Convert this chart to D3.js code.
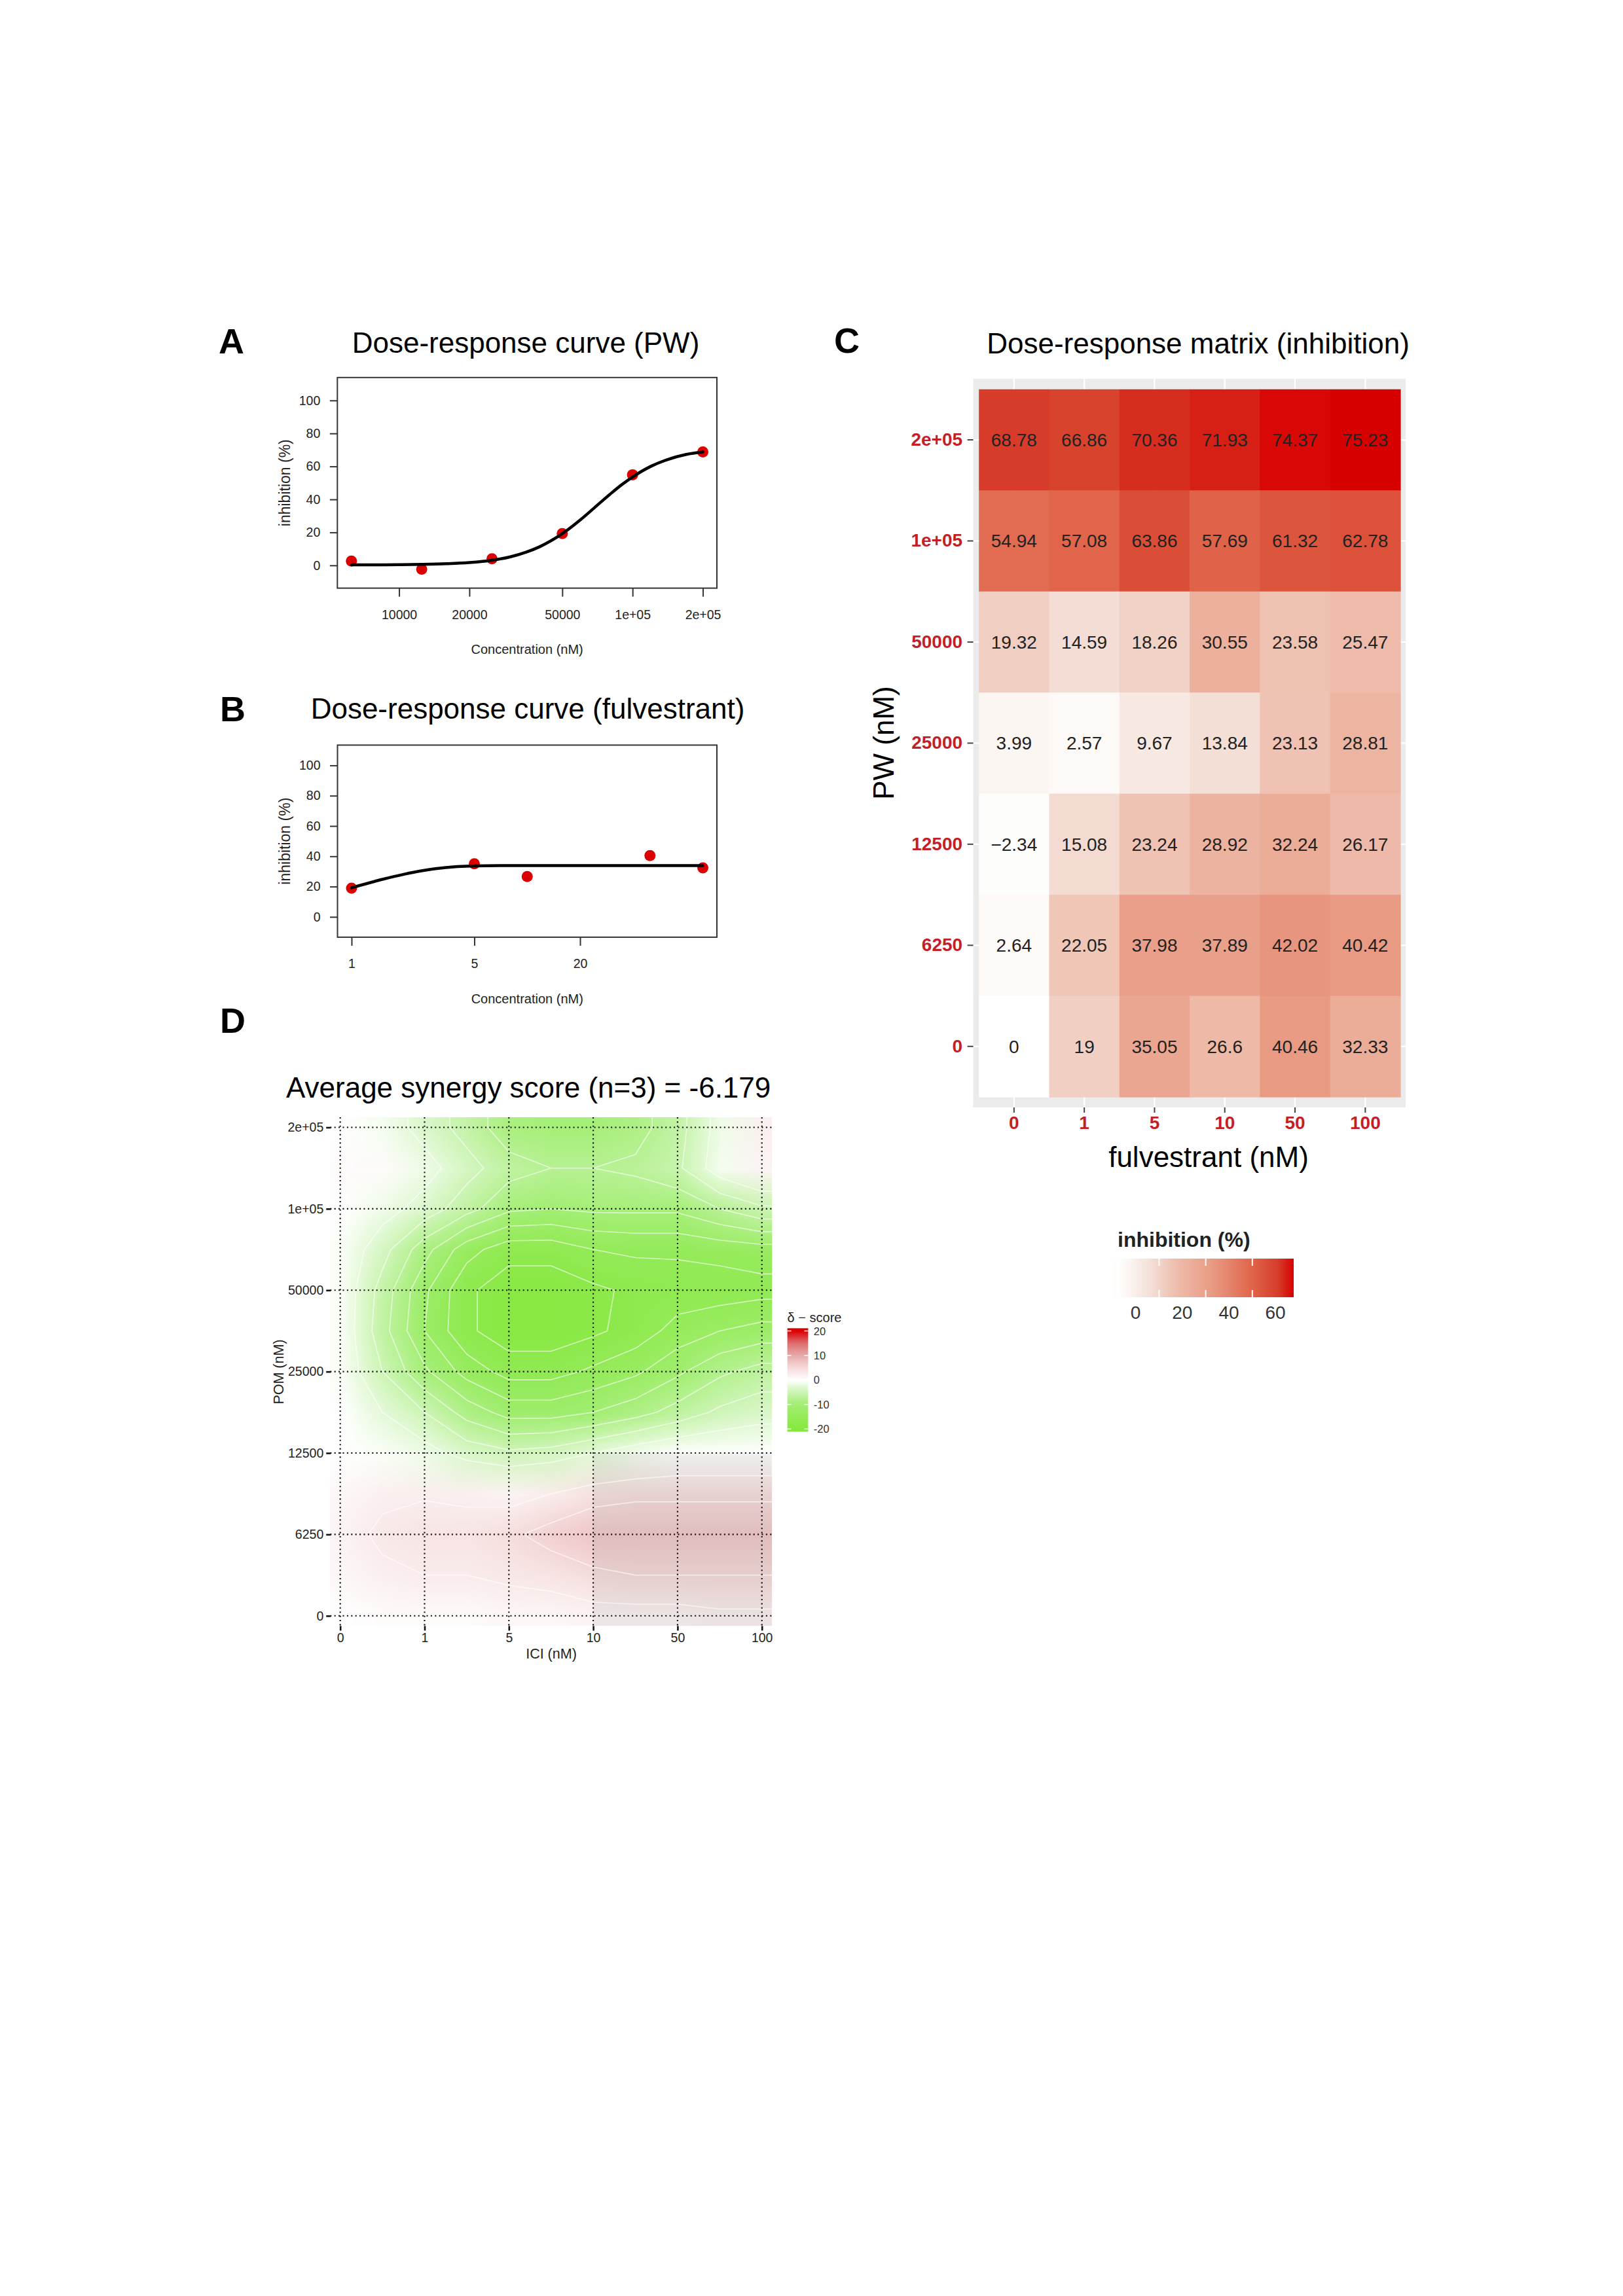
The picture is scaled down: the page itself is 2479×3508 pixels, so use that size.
<!DOCTYPE html>
<html><head><meta charset="utf-8">
<script src="https://cdn.jsdelivr.net/npm/d3@7"></script>
<style>html,body{margin:0;padding:0;background:#fff;} svg{display:block;}</style>
</head><body>
<svg id="fig" width="2479" height="3508" xmlns="http://www.w3.org/2000/svg"></svg>
<script>
// ================= DATA =================
// Panel A: PW single-drug dose response
const pwDoses = [6250, 12500, 25000, 50000, 100000, 200000];
const pwInhibition = [2.64, -2.34, 3.99, 19.32, 54.94, 68.78];
// fitted curve
const pwCurveConc = [6250, 8000, 10000, 12500, 16000, 20000, 25000, 30000, 35000, 40000, 50000, 60000, 70000, 80000, 90000, 100000, 120000, 140000, 170000, 200000];
const pwCurveInh  = [0.3, 0.35, 0.4, 0.6, 1.0, 1.7, 3.1, 5.2, 8.0, 11.3, 19.2, 27.8, 36.0, 43.1, 49.0, 53.6, 60.1, 64.0, 67.3, 68.8];
const pwTicks = [10000, 20000, 50000, 100000, 200000];
const pwTickLabels = ["10000", "20000", "50000", "1e+05", "2e+05"];

// Panel B: fulvestrant single-drug dose response
const fulDoses = [1, 5, 10, 50, 100];
const fulInhibition = [19, 35.05, 26.6, 40.46, 32.33];
const fulCurveConc = [1, 1.5, 2, 2.5, 3, 4, 5, 7, 10, 20, 50, 100];
const fulCurveInh  = [19.2, 24.8, 28.2, 30.4, 31.8, 33.2, 33.7, 33.9, 33.9, 33.9, 33.9, 33.9];
const fulTicks = [1, 5, 20];
const inhTicks = [0, 20, 40, 60, 80, 100];

// Panel C: dose-response matrix (rows PW top->bottom, cols fulvestrant)
const pwLevels  = ["2e+05", "1e+05", "50000", "25000", "12500", "6250", "0"];
const fulLevels = ["0", "1", "5", "10", "50", "100"];
const matrixValues = [
  [68.78, 66.86, 70.36, 71.93, 74.37, 75.23],
  [54.94, 57.08, 63.86, 57.69, 61.32, 62.78],
  [19.32, 14.59, 18.26, 30.55, 23.58, 25.47],
  [3.99, 2.57, 9.67, 13.84, 23.13, 28.81],
  [-2.34, 15.08, 23.24, 28.92, 32.24, 26.17],
  [2.64, 22.05, 37.98, 37.89, 42.02, 40.42],
  [0, 19, 35.05, 26.6, 40.46, 32.33]
];
const matrixLegendTicks = [0, 20, 40, 60];

// Panel D: delta synergy surface, read at half-dose-steps
// rows: POM 2e+05 (top) ... 0 (bottom), 13 rows; cols: ICI 0 ... 100, 11 cols
const pomLevels = ["2e+05", "1e+05", "50000", "25000", "12500", "6250", "0"];
const iciLevels = ["0", "1", "5", "10", "50", "100"];
const synergySurface = [
  [ 0,   -1,   -3.5,  -6,   -9,   -9.5,  -9.5,  -8.5,  -6,   -1.5,  2  ],
  [ 0.5,  0.5, -1.5,  -4,   -6.5, -7.5,  -7.5,  -7,    -5.5, -1,    1.5],
  [ 0,   -1.5, -3.5,  -6.5, -9.5, -10,   -9.5,  -9.5,  -9.5, -7.5, -5.5 ],
  [-0.5, -4,   -9,   -14,   -16.5,-16.5, -15,   -14.5, -14.5,-14,  -13.5],
  [-0.5, -6,  -12,   -17,   -19,  -19,   -18,   -17,   -16.5,-16.5,-16  ],
  [-0.5, -6.5,-12.5, -17,   -19,  -19,   -18,   -16.5, -14,  -12.5,-11.5],
  [-0.5, -5,   -9.5, -13.5, -16,  -16,   -14.5, -13,   -10.5,-8,   -6.5 ],
  [ 0,   -2.5, -5,    -8.5, -11,  -11,   -10,   -8.5,  -6.5, -4.5, -3.5 ],
  [ 0,   -0.5, -1.5,  -3.5, -4.5, -4,    -2.5,  -1,     0,    0,    0  ],
  [ 1,    2,    2.3,   2,    1.5,  2.5,   4,     4.5,   4.5,  4.5,  4.5 ],
  [ 1.5,  3,    3.5,   3.5,  4.5,  6,     7,     7,     7,    7,    7  ],
  [ 1,    2,    2.5,   2.5,  3,    3.5,   4.5,   5,     5,    5,    5  ],
  [ 0,    0.5,  0.5,   0.5,  1,    1,     1.5,   1.5,   1.5,  2,    2  ]
];
const deltaContourLevels = [-17.5, -15, -12.5, -10, -7.5, -5, -2.5, 2.5, 5];
const deltaLegendTicks = [20, 10, 0, -10, -20];
const deltaLimits = [-21.1, 21.1];

// ================= DRAWING =================
const FONT = "'Liberation Sans', Arial, Helvetica, sans-serif";
const svg = d3.select("#fig");
svg.append("rect").attr("width", 2479).attr("height", 3508).attr("fill", "#fff");
const defs = svg.append("defs");

function txt(g, s, x, y, size, opts = {}) {
  const t = g.append("text").attr("x", x).attr("y", y)
    .attr("font-family", FONT).attr("font-size", size)
    .attr("fill", opts.fill || "#000")
    .attr("text-anchor", opts.anchor || "start")
    .text(s);
  if (opts.weight) t.attr("font-weight", opts.weight);
  if (opts.rotate) t.attr("transform", `rotate(${opts.rotate},${x},${y})`);
  if (opts.central) t.attr("dominant-baseline", "central");
  return t;
}

// panel letters
txt(svg, "A", 334, 540, 54, {weight: "bold"});
txt(svg, "B", 336, 1102, 54, {weight: "bold"});
txt(svg, "C", 1274, 539, 54, {weight: "bold"});
txt(svg, "D", 336, 1578, 54, {weight: "bold"});

// ---------- Dose-response curves (A, B) ----------
function drawDoseCurve(o) {
  const g = svg.append("g");
  const lx = d3.extent(o.doses, d => Math.log10(d));
  const pad = (lx[1] - lx[0]) * 0.04;
  const x = d3.scaleLog().domain([Math.pow(10, lx[0] - pad), Math.pow(10, lx[1] + pad)])
    .range([o.box.left, o.box.right]);
  const y = d3.scaleLinear().domain(o.yDomain).range([o.box.bottom, o.box.top]);

  txt(g, o.title, o.titleX, o.titleY, 44, {anchor: "middle"});

  const ya = g.append("g").attr("transform", `translate(${o.box.left},0)`)
    .call(d3.axisLeft(y).tickValues(inhTicks).tickSize(11.5).tickPadding(14.5));
  const xa = g.append("g").attr("transform", `translate(0,${o.box.bottom})`)
    .call(d3.axisBottom(x).tickValues(o.ticks).tickFormat((d, i) => o.tickLabels[i]).tickSize(13).tickPadding(20.5));
  [ya, xa].forEach(a => {
    a.select(".domain").remove();
    a.attr("font-family", FONT).attr("font-size", 19.5);
    a.selectAll(".tick line").attr("stroke", "#333").attr("stroke-width", 2);
    a.selectAll(".tick text").attr("fill", "#222");
  });

  g.append("rect").attr("x", o.box.left).attr("y", o.box.top)
    .attr("width", o.box.right - o.box.left).attr("height", o.box.bottom - o.box.top)
    .attr("fill", "none").attr("stroke", "#333").attr("stroke-width", 2);

  txt(g, "Concentration (nM)", (o.box.left + o.box.right) / 2, o.xLabelY, 20, {anchor: "middle", fill: "#222"});
  txt(g, "inhibition (%)", 435, (o.box.top + o.box.bottom) / 2, 23, {anchor: "middle", fill: "#222", rotate: -90, central: true});

  g.selectAll("circle.pt").data(o.doses.map((d, i) => [d, o.values[i]])).join("circle")
    .attr("class", "pt").attr("cx", d => x(d[0])).attr("cy", d => y(d[1]))
    .attr("r", 8.5).attr("fill", "#dc0000");

  const line = d3.line().x(d => x(d[0])).y(d => y(d[1])).curve(d3.curveMonotoneX);
  g.append("path").datum(o.curveConc.map((c, i) => [c, o.curveInh[i]]))
    .attr("d", line).attr("fill", "none").attr("stroke", "#000")
    .attr("stroke-width", 4.5).attr("stroke-linecap", "round");
}

drawDoseCurve({
  title: "Dose-response curve (PW)", titleX: 803, titleY: 539,
  box: {left: 515.3, right: 1095, top: 576.8, bottom: 898.6},
  yDomain: [-13.8, 113.9],
  doses: pwDoses, values: pwInhibition, curveConc: pwCurveConc, curveInh: pwCurveInh,
  ticks: pwTicks, tickLabels: pwTickLabels, xLabelY: 999
});
drawDoseCurve({
  title: "Dose-response curve (fulvestrant)", titleX: 806, titleY: 1098,
  box: {left: 515.5, right: 1095, top: 1138.4, bottom: 1431.9},
  yDomain: [-13.4, 113.4],
  doses: fulDoses, values: fulInhibition, curveConc: fulCurveConc, curveInh: fulCurveInh,
  ticks: fulTicks, tickLabels: fulTicks.map(String), xLabelY: 1532.5
});

// ---------- Panel C: dose-response matrix ----------
(function () {
  const g = svg.append("g");
  const panel = {left: 1486.6, right: 2147, top: 578.7, bottom: 1692};
  const cx = d3.scaleBand().domain(fulLevels).range([1495.2, 2139]);
  const cy = d3.scaleBand().domain(pwLevels).range([594.8, 1676]);
  const ext = d3.extent(matrixValues.flat());
  const color = d3.scaleLinear()
    .domain([ext[0], 0, 3.99, 14.59, 25.47, 40.46, 57.08, 68.78, ext[1]])
    .range(["#fdfdfc", "#ffffff", "#fcf6f3", "#f3ddd4", "#eebbaa", "#e89a83", "#e0654a", "#d63c29", "#d70000"])
    .interpolate(d3.interpolateRgb);
  const red = "#c41e26";

  txt(g, "Dose-response matrix (inhibition)", 1830, 540, 44, {anchor: "middle"});

  g.append("rect").attr("x", panel.left).attr("y", panel.top)
    .attr("width", panel.right - panel.left).attr("height", panel.bottom - panel.top).attr("fill", "#ebebeb");
  g.selectAll("line.vg").data(fulLevels).join("line").attr("class", "vg")
    .attr("x1", d => cx(d) + cx.bandwidth() / 2).attr("x2", d => cx(d) + cx.bandwidth() / 2)
    .attr("y1", panel.top).attr("y2", panel.bottom).attr("stroke", "#fff").attr("stroke-width", 2.2);
  g.selectAll("line.hg").data(pwLevels).join("line").attr("class", "hg")
    .attr("y1", d => cy(d) + cy.bandwidth() / 2).attr("y2", d => cy(d) + cy.bandwidth() / 2)
    .attr("x1", panel.left).attr("x2", panel.right).attr("stroke", "#fff").attr("stroke-width", 2.2);

  const cells = [];
  matrixValues.forEach((row, r) => row.forEach((v, c) => cells.push({r: pwLevels[r], c: fulLevels[c], v})));
  g.selectAll("rect.cell").data(cells).join("rect").attr("class", "cell")
    .attr("x", d => cx(d.c)).attr("y", d => cy(d.r))
    .attr("width", cx.bandwidth() + 0.6).attr("height", cy.bandwidth() + 0.6)
    .attr("fill", d => color(d.v));
  g.selectAll("text.cell").data(cells).join("text").attr("class", "cell")
    .attr("x", d => cx(d.c) + cx.bandwidth() / 2).attr("y", d => cy(d.r) + cy.bandwidth() / 2)
    .attr("dy", "0.35em").attr("text-anchor", "middle")
    .attr("font-family", FONT).attr("font-size", 28).attr("fill", "#222")
    .text(d => String(d.v).replace("-", "\u2212"));

  const ya = g.append("g").attr("transform", `translate(${panel.left},0)`)
    .call(d3.axisLeft(cy).tickSize(9).tickPadding(7.5));
  const xa = g.append("g").attr("transform", `translate(0,${panel.bottom})`)
    .call(d3.axisBottom(cx).tickSize(8).tickPadding(5.5));
  [ya, xa].forEach(a => {
    a.select(".domain").remove();
    a.attr("font-family", FONT).attr("font-size", 28).attr("font-weight", "bold");
    a.selectAll(".tick line").attr("stroke", "#444").attr("stroke-width", 2);
    a.selectAll(".tick text").attr("fill", red);
  });

  txt(g, "fulvestrant (nM)", 1846, 1783, 44, {anchor: "middle"});
  txt(g, "PW (nM)", 1349, 1135, 44, {anchor: "middle", rotate: -90, central: true});

  // legend
  const lg = {left: 1700, right: 1976, top: 1923, bottom: 1982};
  const ls = d3.scaleLinear().domain(ext).range([lg.left, lg.right]);
  const grad = defs.append("linearGradient").attr("id", "gradC").attr("x1", "0%").attr("x2", "100%").attr("y1", "0%").attr("y2", "0%");
  d3.range(0, 1.0001, 0.025).forEach(t => {
    grad.append("stop").attr("offset", (t * 100) + "%").attr("stop-color", color(ext[0] + t * (ext[1] - ext[0])));
  });
  txt(g, "inhibition (%)", 1707, 1905, 32, {weight: "bold", fill: "#222"});
  g.append("rect").attr("x", lg.left).attr("y", lg.top).attr("width", lg.right - lg.left)
    .attr("height", lg.bottom - lg.top).attr("fill", "url(#gradC)");
  const step = ls(20) - ls(0);
  matrixLegendTicks.forEach(v => {
    const xx = ls(v) - 9;
    g.append("line").attr("x1", xx).attr("x2", xx).attr("y1", lg.top).attr("y2", lg.top + 11).attr("stroke", "#fff").attr("stroke-width", 2);
    g.append("line").attr("x1", xx).attr("x2", xx).attr("y1", lg.bottom - 11).attr("y2", lg.bottom).attr("stroke", "#fff").attr("stroke-width", 2);
    txt(g, String(v), ls(v) + step * 0.37, 2015, 28, {anchor: "middle", fill: "#333"});
  });
})();

// ---------- Panel D: synergy landscape ----------
(function () {
  const g = svg.append("g");
  const dx = d3.scaleLinear().domain([0, 5]).range([519.7, 1163.7]);
  const dy = d3.scaleLinear().domain([0, 6]).range([1722.5, 2468.8]);
  const lo = {i: -0.12, j: -0.125}, hi = {i: 5.12, j: 6.125};
  const color = d3.scaleLinear()
    .domain([deltaLimits[0], -20, -10, -4, 0, 5, 10, 15, 20, deltaLimits[1]])
    .range(["#84e63a", "#86e83e", "#a2ee72", "#d5f6c2", "#ffffff", "#f5d9d9", "#e7aaaa", "#df6e6e", "#da0000", "#d90000"])
    .interpolate(d3.interpolateRgb);

  txt(g, "Average synergy score (n=3) = -6.179", 437, 1677, 44);

  defs.append("clipPath").attr("id", "clipD").append("rect")
    .attr("x", dx(lo.i)).attr("y", dy(lo.j))
    .attr("width", dx(hi.i) - dx(lo.i)).attr("height", dy(hi.j) - dy(lo.j));

  // padded grid (edge values repeated) for rendering
  const nr = synergySurface.length, nc = synergySurface[0].length;
  const pw = nc + 2, ph = nr + 2;
  const padded = [];
  for (let r = -1; r <= nr; r++) {
    const rr = Math.max(0, Math.min(nr - 1, r));
    for (let c = -1; c <= nc; c++) {
      const cc = Math.max(0, Math.min(nc - 1, c));
      padded.push(synergySurface[rr][cc]);
    }
  }
  const canvas = document.createElement("canvas");
  canvas.width = pw; canvas.height = ph;
  const ctx = canvas.getContext("2d");
  const im = ctx.createImageData(pw, ph);
  padded.forEach((v, k) => {
    const c = d3.rgb(color(v));
    im.data[4 * k] = Math.round(c.r); im.data[4 * k + 1] = Math.round(c.g);
    im.data[4 * k + 2] = Math.round(c.b); im.data[4 * k + 3] = 255;
  });
  ctx.putImageData(im, 0, 0);
  const si = 5 / (nc - 1), sj = 6 / (nr - 1);
  const surf = g.append("g").attr("clip-path", "url(#clipD)");
  surf.append("image")
    .attr("href", canvas.toDataURL("image/png"))
    .attr("x", dx(-1.5 * si)).attr("y", dy(-1.5 * sj))
    .attr("width", dx(5 + 1.5 * si) - dx(-1.5 * si))
    .attr("height", dy(6 + 1.5 * sj) - dy(-1.5 * sj))
    .attr("preserveAspectRatio", "none")
    .style("image-rendering", "auto");

  // grey tint patch visible in the source figure
  surf.append("rect").attr("x", dx(3)).attr("y", dy(4))
    .attr("width", dx(hi.i) - dx(3)).attr("height", dy(hi.j) - dy(4))
    .attr("fill", "#7f867f").attr("opacity", 0.12);

  // contour lines
  const contours = d3.contours().size([pw, ph]).thresholds(deltaContourLevels)(padded);
  const proj = d3.geoTransform({
    point: function (x, y) { this.stream.point(dx((x - 1.5) * si), dy((y - 1.5) * sj)); }
  });
  const path = d3.geoPath(proj);
  surf.selectAll("path.ct").data(contours).join("path").attr("class", "ct")
    .attr("d", path).attr("fill", "none").attr("stroke", "#fff")
    .attr("stroke-opacity", 0.6).attr("stroke-width", 1.6).attr("stroke-linejoin", "round");

  // dotted grid
  const dash = "2.1,4.3";
  g.selectAll("line.gv").data(d3.range(6)).join("line").attr("class", "gv")
    .attr("x1", d => dx(d)).attr("x2", d => dx(d)).attr("y1", dy(lo.j)).attr("y2", dy(hi.j))
    .attr("stroke", "#111").attr("stroke-width", 2.1).attr("stroke-dasharray", dash);
  g.selectAll("line.gh").data(d3.range(7)).join("line").attr("class", "gh")
    .attr("y1", d => dy(d)).attr("y2", d => dy(d)).attr("x1", dx(lo.i)).attr("x2", dx(hi.i))
    .attr("stroke", "#111").attr("stroke-width", 2.1).attr("stroke-dasharray", dash);

  const ya = g.append("g").attr("transform", `translate(${dx(lo.i) + 1},0)`)
    .call(d3.axisLeft(dy).tickValues(d3.range(7)).tickFormat(j => pomLevels[j]).tickSize(7).tickPadding(4));
  const xa = g.append("g").attr("transform", `translate(0,${dy(hi.j)})`)
    .call(d3.axisBottom(dx).tickValues(d3.range(6)).tickFormat(i => iciLevels[i]).tickSize(7).tickPadding(3.5));
  [ya, xa].forEach(a => {
    a.select(".domain").remove();
    a.attr("font-family", FONT).attr("font-size", 19.5);
    a.selectAll(".tick line").attr("stroke", "#111").attr("stroke-width", 2.6);
    a.selectAll(".tick text").attr("fill", "#222");
  });

  txt(g, "ICI (nM)", 842, 2534, 21.5, {anchor: "middle", fill: "#222"});
  txt(g, "POM (nM)", 426, 2096, 21.5, {anchor: "middle", fill: "#222", rotate: -90, central: true});

  // legend
  const lg = {left: 1202.6, right: 1234.4, top: 2029.4, bottom: 2187.5};
  const ls = d3.scaleLinear().domain([deltaLimits[1], deltaLimits[0]]).range([lg.top, lg.bottom]);
  const grad = defs.append("linearGradient").attr("id", "gradD").attr("x1", "0%").attr("x2", "0%").attr("y1", "0%").attr("y2", "100%");
  d3.range(0, 1.0001, 0.025).forEach(t => {
    grad.append("stop").attr("offset", (t * 100) + "%")
      .attr("stop-color", color(deltaLimits[1] - t * (deltaLimits[1] - deltaLimits[0])));
  });
  txt(g, "\u03b4 \u2212 score", 1202.6, 2020, 20, {fill: "#222"});
  g.append("rect").attr("x", lg.left).attr("y", lg.top).attr("width", lg.right - lg.left)
    .attr("height", lg.bottom - lg.top).attr("fill", "url(#gradD)");
  deltaLegendTicks.forEach(v => {
    const yy = ls(v);
    g.append("line").attr("x1", lg.left).attr("x2", lg.left + 6).attr("y1", yy).attr("y2", yy).attr("stroke", "#fff").attr("stroke-width", 1.5);
    g.append("line").attr("x1", lg.right - 6).attr("x2", lg.right).attr("y1", yy).attr("y2", yy).attr("stroke", "#fff").attr("stroke-width", 1.5);
    txt(g, String(v), 1242.8, yy, 16.5, {fill: "#333", central: true});
  });
})();
</script>
</body></html>
